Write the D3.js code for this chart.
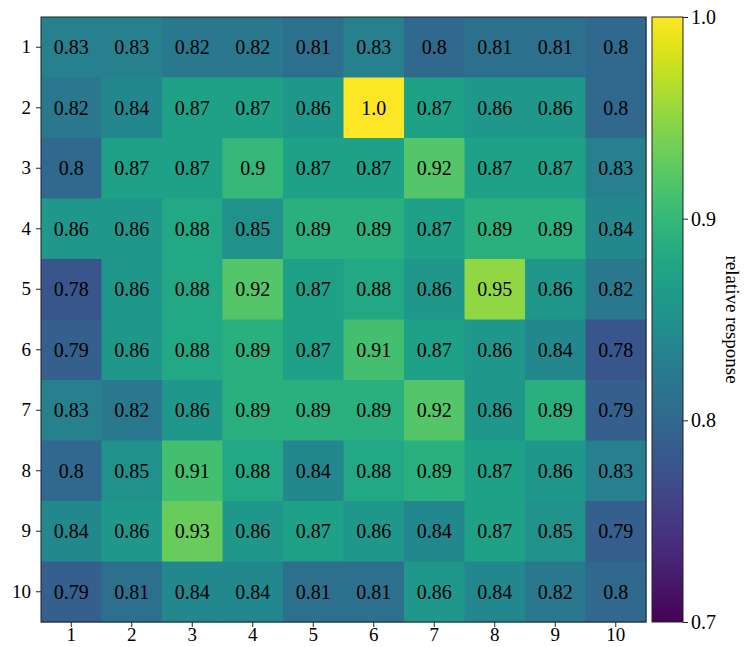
<!DOCTYPE html>
<html>
<head>
<meta charset="utf-8">
<script src="https://cdn.jsdelivr.net/npm/d3@7"></script>
<style>
  html, body { margin: 0; padding: 0; background: #fff; }
  svg text { font-family: "Liberation Serif", "DejaVu Serif", serif; fill: #000; }
</style>
</head>
<body>
<svg id="chart" width="745" height="647"></svg>
<script>
// Row and column labels (1..10)
const rowLabels = ["1","2","3","4","5","6","7","8","9","10"];
const colLabels = ["1","2","3","4","5","6","7","8","9","10"];

// Relative response, one array per row
const row1  = [0.83, 0.83, 0.82, 0.82, 0.81, 0.83, 0.80, 0.81, 0.81, 0.80];
const row2  = [0.82, 0.84, 0.87, 0.87, 0.86, 1.00, 0.87, 0.86, 0.86, 0.80];
const row3  = [0.80, 0.87, 0.87, 0.90, 0.87, 0.87, 0.92, 0.87, 0.87, 0.83];
const row4  = [0.86, 0.86, 0.88, 0.85, 0.89, 0.89, 0.87, 0.89, 0.89, 0.84];
const row5  = [0.78, 0.86, 0.88, 0.92, 0.87, 0.88, 0.86, 0.95, 0.86, 0.82];
const row6  = [0.79, 0.86, 0.88, 0.89, 0.87, 0.91, 0.87, 0.86, 0.84, 0.78];
const row7  = [0.83, 0.82, 0.86, 0.89, 0.89, 0.89, 0.92, 0.86, 0.89, 0.79];
const row8  = [0.80, 0.85, 0.91, 0.88, 0.84, 0.88, 0.89, 0.87, 0.86, 0.83];
const row9  = [0.84, 0.86, 0.93, 0.86, 0.87, 0.86, 0.84, 0.87, 0.85, 0.79];
const row10 = [0.79, 0.81, 0.84, 0.84, 0.81, 0.81, 0.86, 0.84, 0.82, 0.80];
const rows = [row1, row2, row3, row4, row5, row6, row7, row8, row9, row10];

// Colour bar range and ticks
const colorDomain = [0.7, 1.0];
const colorTicks = [0.7, 0.8, 0.9, 1.0];
const colorLabel = "relative response";

const svg = d3.select("#chart");
const plot = { left: 41, top: 17, right: 646, bottom: 622 };
const cbar = { left: 652, right: 683 };

const x = d3.scaleBand().domain(colLabels).range([plot.left, plot.right]).padding(0);
const y = d3.scaleBand().domain(rowLabels).range([plot.top, plot.bottom]).padding(0);
const color = d3.scaleSequential(d3.interpolateViridis).domain(colorDomain);

const cells = [];
rows.forEach((r, i) => r.forEach((v, j) => cells.push({ row: rowLabels[i], col: colLabels[j], v })));

const fmt = v => Number.isInteger(v) ? v.toFixed(1) : String(v);

const g = svg.append("g");
g.selectAll("rect.cell").data(cells).join("rect")
  .attr("class", "cell")
  .attr("x", d => x(d.col))
  .attr("y", d => y(d.row))
  .attr("width", x.bandwidth() + 0.5)
  .attr("height", y.bandwidth() + 0.5)
  .attr("fill", d => color(d.v));

g.selectAll("text.val").data(cells).join("text")
  .attr("class", "val")
  .attr("x", d => x(d.col) + x.bandwidth() / 2)
  .attr("y", d => y(d.row) + y.bandwidth() / 2)
  .attr("text-anchor", "middle")
  .attr("dominant-baseline", "central")
  .style("font-size", "20px")
  .text(d => fmt(d.v));

// Frame
svg.append("rect")
  .attr("x", plot.left).attr("y", plot.top)
  .attr("width", plot.right - plot.left).attr("height", plot.bottom - plot.top)
  .attr("fill", "none").attr("stroke", "#222").attr("stroke-width", 1);

// Axes
const xAxis = d3.axisBottom(x).tickSize(5).tickPadding(1);
const yAxis = d3.axisLeft(y).tickSize(5).tickPadding(5);

const gx = svg.append("g").attr("transform", `translate(0,${plot.bottom})`).call(xAxis);
const gy = svg.append("g").attr("transform", `translate(${plot.left},0)`).call(yAxis);
[gx, gy].forEach(a => {
  a.select(".domain").remove();
  a.selectAll(".tick line").attr("stroke", "#222");
  a.selectAll(".tick text").style("font-size", "19px").attr("font-family", null).attr("fill", "#000");
});

// Colour bar
const defs = svg.append("defs");
const grad = defs.append("linearGradient").attr("id", "cbGrad")
  .attr("x1", 0).attr("y1", 1).attr("x2", 0).attr("y2", 0);
d3.range(0, 1.0001, 0.05).forEach(t => {
  grad.append("stop").attr("offset", t).attr("stop-color", d3.interpolateViridis(t));
});

const cy = d3.scaleLinear().domain(colorDomain).range([plot.bottom, plot.top]);
svg.append("rect")
  .attr("x", cbar.left).attr("y", plot.top)
  .attr("width", cbar.right - cbar.left).attr("height", plot.bottom - plot.top)
  .attr("fill", "url(#cbGrad)").attr("stroke", "#222").attr("stroke-width", 1);

const cAxis = d3.axisRight(cy).tickValues(colorTicks).tickFormat(d3.format(".1f")).tickSize(5).tickPadding(3);
const gc = svg.append("g").attr("transform", `translate(${cbar.right},0)`).call(cAxis);
gc.select(".domain").remove();
gc.selectAll(".tick line").attr("stroke", "#222");
gc.selectAll(".tick text").style("font-size", "20px").attr("font-family", null).attr("fill", "#000");

svg.append("text")
  .attr("transform", `translate(726,${(plot.top + plot.bottom) / 2}) rotate(90)`)
  .attr("text-anchor", "middle")
  .style("font-size", "19px")
  .text(colorLabel);
</script>
</body>
</html>
